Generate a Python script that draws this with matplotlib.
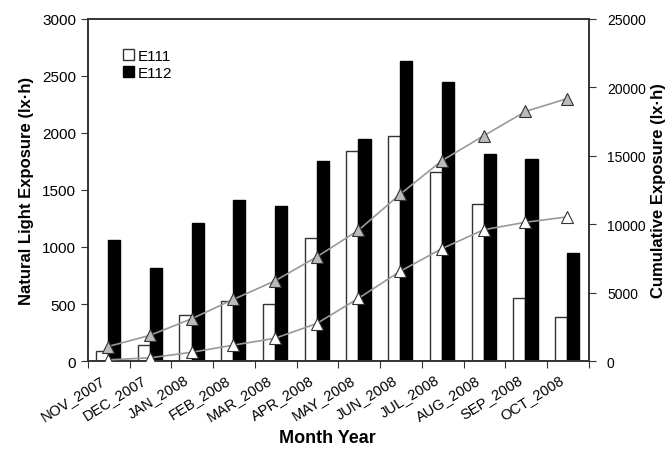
import numpy as np
import matplotlib
matplotlib.use('Agg')
import matplotlib.pyplot as plt
from matplotlib.transforms import ScaledTranslation

plt.rcParams['font.family'] = ['Liberation Sans', 'DejaVu Sans']

months = ['NOV_2007', 'DEC_2007', 'JAN_2008', 'FEB_2008', 'MAR_2008', 'APR_2008',
          'MAY_2008', 'JUN_2008', 'JUL_2008', 'AUG_2008', 'SEP_2008', 'OCT_2008']
e111 = [90, 143, 406, 523, 500, 1080, 1845, 1975, 1655, 1375, 550, 390]
e112 = [1060, 815, 1210, 1415, 1360, 1750, 1950, 2635, 2450, 1815, 1775, 945]
cum_e111 = [90, 233, 639, 1162, 1662, 2742, 4587, 6562, 8217, 9592, 10142, 10532]
cum_e112 = [1060, 1875, 3085, 4500, 5860, 7610, 9560, 12195, 14645, 16460, 18235, 19180]

edge = '#333333'
fig = plt.figure(figsize=(6.7, 4.52), dpi=100)
ax = fig.add_axes([0.1313, 0.199, 0.7477, 0.757])
x = np.arange(len(months))
w = 0.29

ax.bar(x - w / 2 - 0.02, e111, width=w, color='white', edgecolor=edge, linewidth=1, label='E111', zorder=2)
ax.bar(x + w / 2 - 0.02, e112, width=w, color='black', edgecolor='black', linewidth=1, label='E112', zorder=2)

ax.set_xlim(-0.5, 11.5)
ax.set_ylim(0, 3000)
ax.set_yticks(range(0, 3001, 500))
# month boundaries carry the tick marks, month centres carry the names
ax.set_xticks(np.arange(-0.5, 12, 1), minor=False)
ax.set_xticklabels([])
ax.set_xticks(x, minor=True)
ax.set_xticklabels(months, minor=True, rotation=32, ha='right', rotation_mode='anchor', fontsize=10.5)
ax.tick_params(axis='x', which='minor', length=0, pad=8)
ax.tick_params(axis='x', which='major', direction='out', length=5, color=edge)
ax.tick_params(axis='y', direction='out', length=5, labelsize=11, color=edge)
shift = ScaledTranslation(-9 / 100, 0, fig.dpi_scale_trans)
for lab in ax.get_xticklabels(minor=True):
    lab.set_transform(lab.get_transform() + shift)

ax2 = ax.twinx()
ax2.plot(x - 0.02, cum_e112, color='#999999', linewidth=1.2, marker='^', markersize=9,
         markerfacecolor='#bbbbbb', markeredgecolor=edge, markeredgewidth=0.8, zorder=3)
ax2.plot(x - 0.02, cum_e111, color='#999999', linewidth=1.2, marker='^', markersize=9,
         markerfacecolor='white', markeredgecolor=edge, markeredgewidth=0.8, zorder=3)
ax2.set_ylim(0, 25000)
ax2.set_yticks(range(0, 25001, 5000))
ax2.tick_params(axis='y', direction='out', length=5, pad=8, labelsize=10, color=edge)

for a in (ax, ax2):
    for s in a.spines.values():
        s.set_color(edge)
        s.set_linewidth(1.2)

ax.set_ylabel('Natural Light Exposure (lx\u00b7h)', fontsize=12, fontweight='bold', labelpad=6)
ax2.set_ylabel('Cumulative Exposure (lx\u00b7h)', fontsize=12, fontweight='bold', labelpad=4)
ax.set_xlabel('Month Year', fontsize=13, fontweight='bold')
ax.xaxis.set_label_coords(0.478, -0.2)

ax.legend(loc='upper left', bbox_to_anchor=(0.055, 0.935), frameon=False, fontsize=11,
          handlelength=0.7, handleheight=0.7, handletextpad=0.25, labelspacing=0.2, borderpad=0)

fig.savefig('out.png', dpi=100)
